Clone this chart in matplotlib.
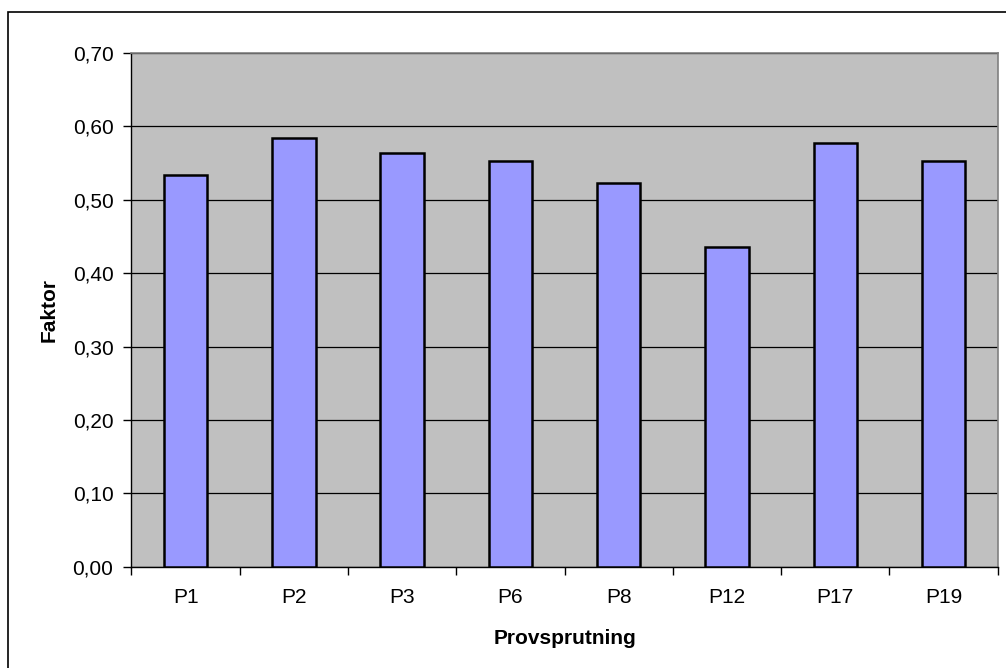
import numpy as np
import matplotlib
matplotlib.use("Agg")
import matplotlib.pyplot as plt
from matplotlib.patches import Rectangle

plt.rcParams["font.family"] = ["Liberation Sans", "DejaVu Sans"]

# data
labels = ["P1", "P2", "P3", "P6", "P8", "P12", "P17", "P19"]
faktor = [0.533, 0.584, 0.563, 0.553, 0.522, 0.436, 0.577, 0.553]
yticks = [0.0, 0.1, 0.2, 0.3, 0.4, 0.5, 0.6, 0.7]

fs = 15

fig = plt.figure(figsize=(10.06, 6.68), dpi=100)
ax = fig.add_axes([0.1307, 0.1512, 0.8609, 0.7702])

# outer chart border (only left/top visible in the reference)
fig.patches.append(Rectangle((0.008, -0.05), 1.1, 1.0323, transform=fig.transFigure,
                             fill=False, ec="black", lw=1.2))

ax.set_facecolor("#C0C0C0")
x = np.arange(len(labels))
ax.bar(x, faktor, width=0.4, color="#9999FF", edgecolor="black", lw=1.8, zorder=3)

ax.set_xlim(-0.5, len(labels) - 0.5)
ax.set_ylim(0, 0.7)
ax.set_yticks(yticks)
ax.set_yticklabels([("%.2f" % v).replace(".", ",") for v in yticks])
ax.yaxis.grid(True, color="black", lw=0.9, zorder=1)
ax.set_axisbelow(True)

ax.set_xticks(x)
ax.set_xticklabels(labels)
ax.set_xticks(np.arange(len(labels) + 1) - 0.5, minor=True)
ax.tick_params(axis="x", which="major", length=0, pad=15, labelsize=fs)
ax.tick_params(axis="x", which="minor", length=6, width=1, direction="out")
ax.tick_params(axis="y", length=6, width=1, direction="out", pad=7, labelsize=fs)

for s in ["top", "right"]:
    ax.spines[s].set_color("#808080")
    ax.spines[s].set_linewidth(1.2)
for s in ["left", "bottom"]:
    ax.spines[s].set_color("black")
    ax.spines[s].set_linewidth(1)

ax.set_xlabel("Provsprutning", fontsize=fs, fontweight="bold", labelpad=16)
ax.set_ylabel("Faktor", fontsize=fs, fontweight="bold", labelpad=10)

plt.savefig("out.png", dpi=100)
